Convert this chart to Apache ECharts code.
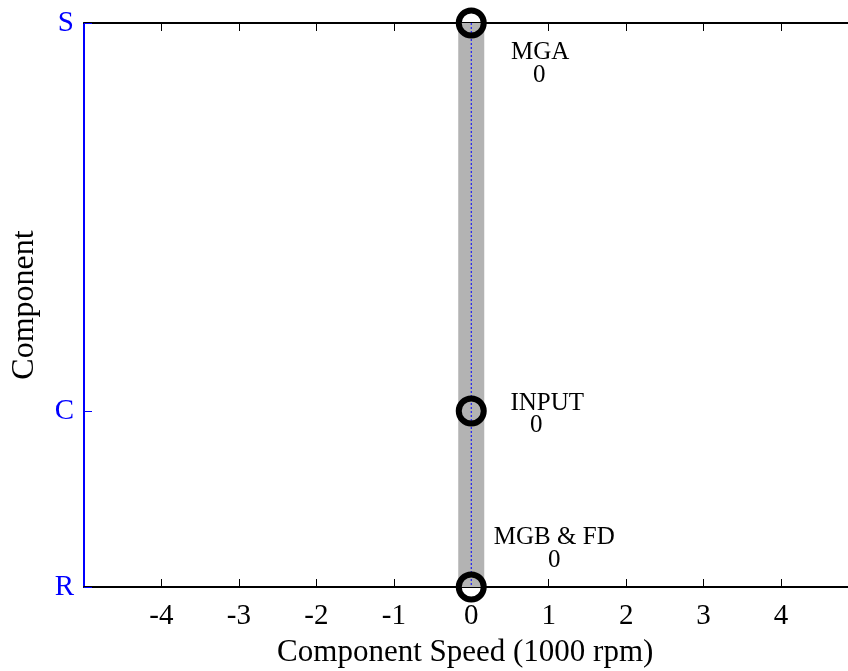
<!DOCTYPE html>
<html>
<head>
<meta charset="utf-8">
<script src="https://cdn.jsdelivr.net/npm/echarts@6/dist/echarts.min.js"></script>
<style>html,body{margin:0;padding:0;background:#fff}#c{width:848px;height:671px}</style>
</head>
<body>
<div id="c"></div>
<script>
// ---- data ----
var components = ['S', 'C', 'R'];
var componentPos = [1, 0.312, 0];          // lever positions (y)
var componentNames = ['MGA', 'INPUT', 'MGB & FD'];
var speeds = [0, 0, 0];                      // component speed (1000 rpm)
var xTicks = [-4, -3, -2, -1, 0, 1, 2, 3, 4];

// ---- styles (not data) ----
var FONT = 'Liberation Serif';
var nameOffsets = [[69, 29], [76, -8], [83, -50]];
var valueOffsets = [[68, 52], [65, 14], [83, -27]];

var pts = speeds.map(function (s, i) { return [s, componentPos[i]]; });

var chart = echarts.init(document.getElementById('c'));
chart.setOption({
  animation: false,
  grid: { left: 84, top: 23, bottom: 84, right: -10.5, containLabel: false, outerBoundsMode: 'none' },
  xAxis: [{
    type: 'value', min: -5, max: 5, interval: 1, position: 'bottom',
    name: 'Component Speed (1000 rpm)', nameLocation: 'middle', nameGap: 50,
    nameTextStyle: { fontFamily: FONT, fontSize: 31, color: '#000', padding: [0, 12, 0, 0] },
    axisLine: { show: true, onZero: false, lineStyle: { color: '#000', width: 2 } },
    axisTick: { show: true, inside: true, length: 8, lineStyle: { color: '#000', width: 1 }, customValues: xTicks },
    axisLabel: { fontFamily: FONT, fontSize: 29, color: '#000', margin: 15, customValues: xTicks },
    splitLine: { show: false }
  }, {
    type: 'value', min: -5, max: 5, interval: 1, position: 'top',
    axisLine: { show: true, onZero: false, lineStyle: { color: '#000', width: 2 } },
    axisTick: { show: true, inside: true, length: 8, lineStyle: { color: '#000', width: 1 }, customValues: xTicks },
    axisLabel: { show: false },
    splitLine: { show: false }
  }],
  yAxis: {
    type: 'value', min: 0, max: 1,
    name: 'Component', nameLocation: 'middle', nameGap: 43,
    nameTextStyle: { fontFamily: FONT, fontSize: 32, color: '#000' },
    axisLine: { show: true, onZero: false, lineStyle: { color: '#0000ff', width: 2 } },
    axisTick: { show: true, inside: true, length: 8, lineStyle: { color: '#0000ff', width: 1 }, customValues: componentPos },
    axisLabel: {
      fontFamily: FONT, fontSize: 29, color: '#0000ff', margin: 10,
      customValues: componentPos,
      formatter: function (v) {
        for (var i = 0; i < componentPos.length; i++) if (Math.abs(componentPos[i] - v) < 1e-6) return components[i];
        return '';
      }
    },
    splitLine: { show: false }
  },
  series: [{
    type: 'line', data: pts, symbol: 'none', z: 1,
    lineStyle: { color: '#b3b3b3', width: 26, cap: 'butt' }
  }, {
    type: 'line', data: pts, symbol: 'none', z: 2,
    lineStyle: { color: '#0000ff', width: 1, type: [2, 2] }
  }, {
    type: 'scatter', data: pts, symbol: 'circle', symbolSize: 25, z: 3,
    itemStyle: { color: 'rgba(0,0,0,0)', borderColor: '#000', borderWidth: 6, opacity: 1 }
  }, {
    type: 'scatter', symbolSize: 0, z: 4,
    itemStyle: { opacity: 1 },
    data: pts.map(function (p, i) {
      return { value: p, label: { show: true, position: 'inside', offset: nameOffsets[i], formatter: componentNames[i] } };
    }),
    label: { fontFamily: FONT, fontSize: 25, color: '#000', align: 'center', verticalAlign: 'middle' }
  }, {
    type: 'scatter', symbolSize: 0, z: 4,
    itemStyle: { opacity: 1 },
    data: pts.map(function (p, i) {
      return { value: p, label: { show: true, position: 'inside', offset: valueOffsets[i], formatter: String(speeds[i]) } };
    }),
    label: { fontFamily: FONT, fontSize: 25, color: '#000', align: 'center', verticalAlign: 'middle' }
  }]
});
</script>
</body>
</html>
